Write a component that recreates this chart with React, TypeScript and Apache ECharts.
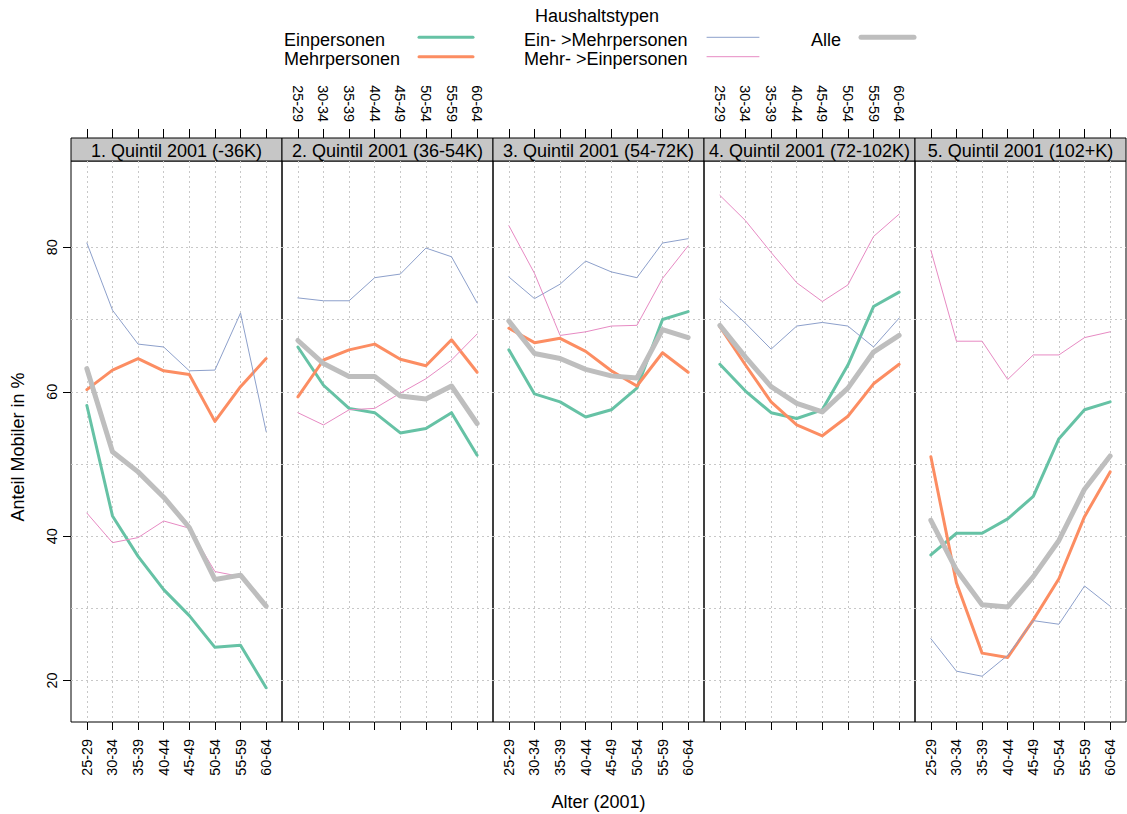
import React, { useEffect, useRef } from "react";
import * as echarts from "echarts";

const ages = ["25-29", "30-34", "35-39", "40-44", "45-49", "50-54", "55-59", "60-64"];
const quintils = [
  "1. Quintil 2001 (-36K)",
  "2. Quintil 2001 (36-54K)",
  "3. Quintil 2001 (54-72K)",
  "4. Quintil 2001 (72-102K)",
  "5. Quintil 2001 (102+K)",
];
const yTickValues = [20, 40, 60, 80];
const yGridValues = [20, 30, 40, 50, 60, 70, 80];

const einpersonen = [
  [58.1, 42.8, 37.2, 32.6, 29.0, 24.6, 24.9, 19.0],
  [66.2, 60.9, 57.7, 57.1, 54.3, 54.9, 57.1, 51.2],
  [65.8, 59.7, 58.6, 56.5, 57.5, 60.5, 70.0, 71.1],
  [63.8, 60.1, 57.1, 56.3, 57.5, 63.7, 71.8, 73.8],
  [37.4, 40.4, 40.4, 42.4, 45.5, 53.5, 57.5, 58.6],
];
const mehrpersonen = [
  [60.3, 63.0, 64.6, 62.9, 62.4, 55.9, 60.7, 64.6],
  [59.3, 64.4, 65.8, 66.6, 64.5, 63.6, 67.2, 62.7],
  [68.8, 66.8, 67.4, 65.6, 62.9, 60.8, 65.4, 62.7],
  [69.0, 63.7, 58.6, 55.4, 53.9, 56.6, 61.1, 63.8],
  [51.0, 33.5, 23.8, 23.2, 28.4, 34.1, 42.7, 48.9],
];
const einZuMehr = [
  [80.6, 71.3, 66.6, 66.2, 62.9, 63.0, 70.9, 54.5],
  [73.0, 72.6, 72.6, 75.8, 76.3, 79.9, 78.7, 72.3],
  [75.9, 72.9, 74.9, 78.1, 76.6, 75.8, 80.6, 81.2],
  [72.8, 69.5, 65.9, 69.1, 69.6, 69.1, 66.2, 70.2],
  [25.8, 21.3, 20.6, 23.5, 28.3, 27.8, 33.1, 30.3],
];
const mehrZuEin = [
  [43.2, 39.1, 39.8, 42.1, 41.1, 35.1, 34.4, 30.4],
  [57.1, 55.4, 57.5, 57.7, 59.8, 61.8, 64.4, 68.0],
  [83.0, 76.4, 67.8, 68.3, 69.1, 69.2, 75.7, 80.2],
  [87.2, 83.7, 79.3, 75.1, 72.5, 74.8, 81.5, 84.6],
  [79.6, 67.0, 67.0, 61.7, 65.1, 65.1, 67.5, 68.3],
];
const alle = [
  [63.2, 51.7, 48.9, 45.4, 41.2, 34.0, 34.6, 30.3],
  [67.1, 63.9, 62.1, 62.1, 59.4, 59.0, 60.8, 55.6],
  [69.8, 65.3, 64.6, 63.1, 62.2, 61.9, 68.6, 67.5],
  [69.2, 64.8, 60.7, 58.4, 57.2, 60.5, 65.5, 67.8],
  [42.2, 35.3, 30.5, 30.2, 34.4, 39.4, 46.5, 51.1],
];

const seriesDefs = [
  { name: "Einpersonen", data: einpersonen, color: "#66C2A5", width: 3 },
  { name: "Mehrpersonen", data: mehrpersonen, color: "#FC8D62", width: 3 },
  { name: "Ein- >Mehrpersonen", data: einZuMehr, color: "#8DA0CB", width: 1 },
  { name: "Mehr- >Einpersonen", data: mehrZuEin, color: "#E78AC3", width: 1 },
  { name: "Alle", data: alle, color: "#BEBEBE", width: 5 },
];

const FONT = "Liberation Sans, Arial, Helvetica, sans-serif";
const X_MIN = 0.38;
const X_MAX = 8.62;
const Y_MIN = 14.26;
const Y_MAX = 91.96;
const PANEL_LEFT = 71;
const PANEL_W = 211;
const PANEL_TOP = 161;
const PANEL_H = 561;
const STRIP_H = 23;

export default function App() {
  const ref = useRef<HTMLDivElement>(null);

  useEffect(() => {
    if (!ref.current) return;
    const chart = echarts.init(ref.current, undefined, { renderer: "svg" });
    const xs = ages.map((_, k) => k + 1);
    const panels = quintils.map((_, i) => i);
    const gridLine = { color: "#c8c8c8", width: 1, type: [2, 3] as any };

    const grids = panels.map((i) => ({
      left: PANEL_LEFT + i * PANEL_W,
      top: PANEL_TOP,
      width: PANEL_W,
      height: PANEL_H,
      show: true,
      borderColor: "#000",
      borderWidth: 1,
      backgroundColor: "transparent",
    }));

    const labelStyle = { fontFamily: FONT, fontSize: 14.4, color: "#000" };

    const xBottom = panels.map((i) => ({
      type: "value",
      gridIndex: i,
      min: X_MIN,
      max: X_MAX,
      position: "bottom",
      axisLine: { show: false },
      axisTick: { show: true, length: 8, customValues: xs, lineStyle: { color: "#000" } },
      axisLabel: {
        show: i % 2 === 0,
        customValues: xs,
        rotate: 90,
        margin: 17,
        formatter: (v: number) => ages[Math.round(v) - 1] ?? "",
        ...labelStyle,
      },
      splitLine: { show: true, lineStyle: gridLine },
    }));
    const xTop = panels.map((i) => ({
      type: "value",
      gridIndex: i,
      min: X_MIN,
      max: X_MAX,
      position: "top",
      offset: STRIP_H,
      axisLine: { show: false },
      axisTick: { show: true, length: 9, customValues: xs, lineStyle: { color: "#000" } },
      axisLabel: {
        show: i === 1 || i === 3,
        customValues: xs,
        rotate: 90,
        margin: 16,
        formatter: (v: number) => ages[Math.round(v) - 1] ?? "",
        ...labelStyle,
      },
      splitLine: { show: false },
    }));
    const yMain = panels.map((i) => ({
      type: "value",
      gridIndex: i,
      min: Y_MIN,
      max: Y_MAX,
      position: "left",
      axisLine: { show: false },
      axisTick: { show: i === 0, length: 8, customValues: yTickValues, lineStyle: { color: "#000" } },
      axisLabel: { show: i === 0, customValues: yTickValues, rotate: 90, margin: 12, ...labelStyle },
      splitLine: { show: false },
    }));
    const yGrid = panels.map((i) => ({
      type: "value",
      gridIndex: i,
      min: Y_MIN,
      max: Y_MAX,
      position: "left",
      axisLine: { show: false },
      axisTick: { show: false, customValues: yGridValues },
      axisLabel: { show: false, customValues: yGridValues },
      splitLine: { show: true, lineStyle: gridLine },
    }));

    const series: any[] = [];
    panels.forEach((i) => {
      seriesDefs.forEach((s) => {
        series.push({
          type: "line",
          name: s.name,
          xAxisIndex: i,
          yAxisIndex: i,
          data: s.data[i].map((v, k) => [xs[k], v]),
          symbol: "none",
          showSymbol: false,
          silent: true,
          lineStyle: { color: s.color, width: s.width, cap: "round", join: "round" },
          itemStyle: { color: s.color },
        });
      });
    });

    const graphics: any[] = [];
    panels.forEach((i) => {
      const x = PANEL_LEFT + i * PANEL_W;
      graphics.push({
        type: "rect",
        shape: { x, y: PANEL_TOP - STRIP_H, width: PANEL_W, height: STRIP_H },
        style: { fill: "#c6c6c6", stroke: "#000", lineWidth: 1 },
      });
      graphics.push({
        type: "text",
        x: x + PANEL_W / 2,
        y: PANEL_TOP - STRIP_H / 2 + 1,
        style: {
          text: quintils[i],
          font: `18px ${FONT}`,
          fill: "#000",
          textAlign: "center",
          textVerticalAlign: "middle",
        },
      });
    });

    // legend
    const textStyle = (text: string, x: number, y: number, align = "left") => ({
      type: "text",
      x,
      y,
      style: { text, font: `18px ${FONT}`, fill: "#000", textAlign: align, textVerticalAlign: "middle" },
    });
    graphics.push(textStyle("Haushaltstypen", 597, 16, "center"));
    const legendPos = [
      { tx: 284, ty: 40, lx1: 419, lx2: 473, ly: 37.3 },
      { tx: 284, ty: 59, lx1: 419, lx2: 473, ly: 56.7 },
      { tx: 524, ty: 40, lx1: 707, lx2: 759, ly: 37.3 },
      { tx: 524, ty: 59, lx1: 707, lx2: 759, ly: 56.7 },
      { tx: 811, ty: 40, lx1: 861, lx2: 914, ly: 37.3 },
    ];
    seriesDefs.forEach((s, k) => {
      const p = legendPos[k];
      graphics.push(textStyle(s.name, p.tx, p.ty));
      graphics.push({
        type: "line",
        shape: { x1: p.lx1, y1: p.ly, x2: p.lx2, y2: p.ly },
        style: { stroke: s.color, lineWidth: s.width, lineCap: "round" },
      });
    });

    // axis titles
    graphics.push(textStyle("Alter (2001)", 598.5, 802, "center"));
    graphics.push({
      type: "text",
      x: 18,
      y: 447,
      rotation: Math.PI / 2,
      style: {
        text: "Anteil Mobiler in %",
        font: `18px ${FONT}`,
        fill: "#000",
        textAlign: "center",
        textVerticalAlign: "middle",
      },
    });

    chart.setOption({
      animation: false,
      backgroundColor: "#fff",
      textStyle: { fontFamily: FONT },
      grid: grids,
      xAxis: [...xBottom, ...xTop],
      yAxis: [...yMain, ...yGrid],
      series,
      graphic: graphics,
    });

    return () => chart.dispose();
  }, []);

  return (
    <div
      ref={ref}
      style={{ position: "absolute", left: 0, top: 0, width: 1127, height: 814 }}
    />
  );
}
